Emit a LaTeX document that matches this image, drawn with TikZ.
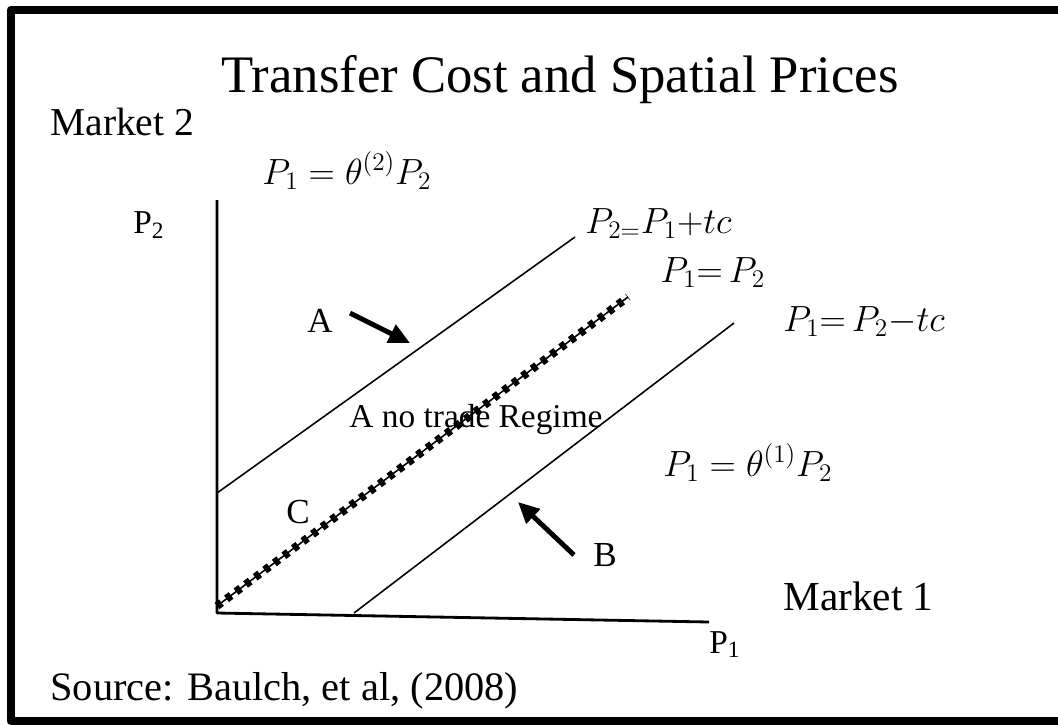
\documentclass[tikz,border=0pt]{standalone}
\usepackage{fontspec}
\setmainfont{Liberation Serif}
\usetikzlibrary{arrows.meta}
\tikzset{
  nhan/.style={inner sep=0pt, font=\fontsize{20}{24}\selectfont},
  chu/.style={inner sep=0pt, font=\fontsize{23}{27}\selectfont},
  duong/.style={line width=0.9pt},
  truc/.style={line width=1.6pt},
  mui/.style={line width=2.8pt, -{Triangle[length=12pt,width=11pt]}},
}
\begin{document}
\begin{tikzpicture}[x=0.02cm, y=-0.02cm, line join=round]
	\useasboundingbox (0,0) rectangle (1058,724);
	% Vẽ khung
	\begin{scope}
		\clip (0,0) rectangle (1058,724);
		\draw[line width=5pt] (1080,10) -- (11,10) -- (11,721) -- (1080,721);
	\end{scope}
	
	% Tiêu đề và chú thích
	\node[chu, anchor=base, font=\fontsize{30}{35}\selectfont] (tieude) at (560,92) {Transfer Cost and Spatial Prices};
	\node[chu, anchor=base west, font=\fontsize{22.5}{27}\selectfont] (thitruonghai) at (50,135) {Market 2};
	\node[chu, anchor=base west, font=\fontsize{23.5}{28}\selectfont] (thitruongmot) at (783,610) {Market 1};
	\node[chu, anchor=base west] (nguon) at (50,700) {Source: Baulch, et al, (2008)};
	
	% Vẽ trục
	\coordinate (O) at (217,613);
	\draw[truc] (217,200) -- (O) -- (709,622);
	\node[nhan, anchor=base west, font=\fontsize{19}{22}\selectfont] (Phai) at (133,233) {P\textsubscript{2}};
	\node[nhan, anchor=base west, font=\fontsize{19}{22}\selectfont] (Pmot) at (709,653) {P\textsubscript{1}};
	
	% Ba đường giá
	\draw[duong] (217,493) coordinate (trenA) -- (575,237) coordinate (trenB);
	\draw[duong] (217,606) coordinate (giuaA) -- (628,297) coordinate (giuaB);
	\draw[line width=4.6pt, dash pattern=on 3.2pt off 3.6pt] (giuaA) -- (giuaB);
	\draw[duong] (354,613) coordinate (duoiA) -- (734,323) coordinate (duoiB);
	
	% Nhãn các đường
	\node[nhan, anchor=base west] (theta2) at (262,184) {$P_1 = \theta^{(2)} P_2$};
	\node[nhan, anchor=base west] (nhantren) at (585,233) {$P_{2=}P_1{+}tc$};
	\node[nhan, anchor=base west] (nhangiua) at (660,282) {$P_1{=}\,P_2$};
	\node[nhan, anchor=base west] (nhanduoi) at (783,331) {$P_1{=}\,P_2{-}tc$};
	\node[nhan, anchor=base west] (theta1) at (663,476) {$P_1 = \theta^{(1)} P_2$};
	\node[nhan, anchor=base, font=\fontsize{19}{22}\selectfont] (vung) at (476,427) {A no trade Regime};
	
	% Vùng A, B, C
	\node[nhan, anchor=base west] (A) at (307,332) {A};
	\node[nhan, anchor=base west] (B) at (593,566) {B};
	\node[nhan, anchor=base west] (C) at (286,523) {C};
	\coordinate (duoiMuiA) at (350,313);
	\coordinate (dinhMuiA) at (410,343);
	\coordinate (duoiMuiB) at (574,555);
	\coordinate (dinhMuiB) at (518,502);
	\draw[mui] (duoiMuiA) -- (dinhMuiA);
	\draw[mui] (duoiMuiB) -- (dinhMuiB);
\end{tikzpicture}
\end{document}
